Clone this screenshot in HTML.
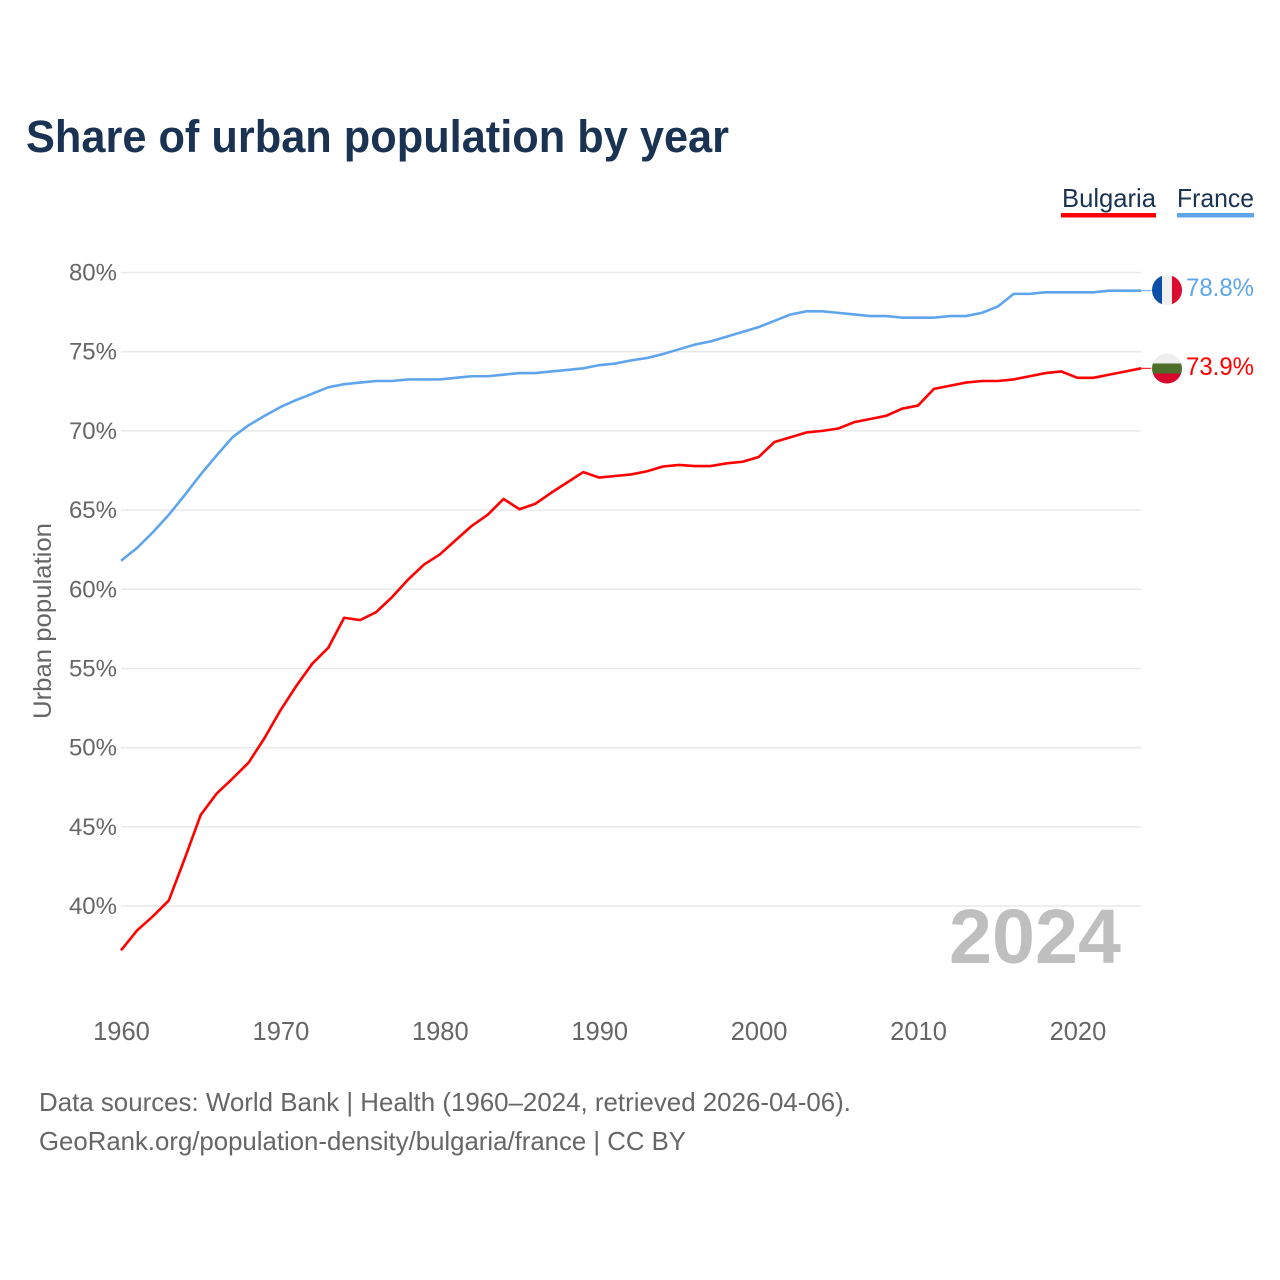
<!DOCTYPE html>
<html lang="en">
<head>
<meta charset="utf-8">
<title>Share of urban population by year</title>
<style>
  html, body { margin: 0; padding: 0; background: #ffffff; }
  svg { display: block; font-family: "Liberation Sans", sans-serif; }
</style>
</head>
<body>
<svg id="chart" xmlns="http://www.w3.org/2000/svg" width="1280" height="1280" viewBox="0 0 1280 1280">
  <rect x="0" y="0" width="1280" height="1280" fill="#ffffff"/>
  <text x="26" y="152" font-size="45" font-weight="700" fill="#1a3352" textLength="703" lengthAdjust="spacingAndGlyphs">Share of urban population by year</text>

  <g>
    <text x="1062" y="207" font-size="26" fill="#1a3352" textLength="94" lengthAdjust="spacingAndGlyphs">Bulgaria</text>
    <rect x="1061" y="213" width="95" height="4.5" fill="#ff0000"/>
  </g>
  <g>
    <text x="1177" y="207" font-size="26" fill="#1a3352" textLength="77" lengthAdjust="spacingAndGlyphs">France</text>
    <rect x="1177" y="213" width="77" height="4.5" fill="#5fa5ee"/>
  </g>

  <text transform="translate(51,719) rotate(-90)" x="0" y="0" font-size="25" fill="#666666" textLength="196" lengthAdjust="spacingAndGlyphs">Urban population</text>

  <g id="grid"></g>
  <g id="y-ticks"></g>
  <g id="x-ticks"></g>

  <text x="949" y="963" font-size="77" font-weight="700" fill="#bfbfbf" textLength="172" lengthAdjust="spacingAndGlyphs">2024</text>

  <g id="series"></g>

  <defs>
    <clipPath id="flag-clip-fr"><circle cx="1167" cy="290" r="15"/></clipPath>
    <clipPath id="flag-clip-bg"><circle cx="1167" cy="368.5" r="15"/></clipPath>
  </defs>

  <g clip-path="url(#flag-clip-fr)">
    <rect x="1152" y="275" width="10" height="30" fill="#0a4fa8"/>
    <rect x="1162" y="275" width="10" height="30" fill="#f0f0f0"/>
    <rect x="1172" y="275" width="10" height="30" fill="#dc0a2e"/>
  </g>
  <g clip-path="url(#flag-clip-bg)">
    <rect x="1152" y="353.5" width="30" height="10" fill="#eeeeee"/>
    <rect x="1152" y="363.5" width="30" height="10" fill="#4d6e2b"/>
    <rect x="1152" y="373.5" width="30" height="10" fill="#d6082e"/>
  </g>

  <text x="1186" y="296" font-size="25" fill="#5fa5ee" textLength="68" lengthAdjust="spacingAndGlyphs">78.8%</text>
  <text x="1186" y="375" font-size="25" fill="#ff0000" textLength="68" lengthAdjust="spacingAndGlyphs">73.9%</text>

  <text x="39" y="1111" font-size="26" fill="#666666" textLength="812" lengthAdjust="spacingAndGlyphs">Data sources: World Bank | Health (1960–2024, retrieved 2026-04-06).</text>
  <text x="39" y="1150" font-size="26" fill="#666666" textLength="647" lengthAdjust="spacingAndGlyphs">GeoRank.org/population-density/bulgaria/france | CC BY</text>
</svg>

<script>
const years = [1960,1961,1962,1963,1964,1965,1966,1967,1968,1969,
  1970,1971,1972,1973,1974,1975,1976,1977,1978,1979,
  1980,1981,1982,1983,1984,1985,1986,1987,1988,1989,
  1990,1991,1992,1993,1994,1995,1996,1997,1998,1999,
  2000,2001,2002,2003,2004,2005,2006,2007,2008,2009,
  2010,2011,2012,2013,2014,2015,2016,2017,2018,2019,
  2020,2021,2022,2023,2024];

const bulgaria = [37.2,38.45,39.35,40.35,43.0,45.75,47.1,48.05,49.05,50.6,
  52.35,53.9,55.3,56.3,58.2,58.05,58.55,59.5,60.6,61.55,
  62.2,63.1,64.0,64.7,65.7,65.05,65.4,66.1,66.75,67.4,
  67.05,67.15,67.25,67.45,67.75,67.85,67.78,67.78,67.95,68.05,
  68.35,69.3,69.6,69.9,70.0,70.15,70.55,70.75,70.95,71.4,
  71.6,72.65,72.85,73.05,73.15,73.15,73.25,73.45,73.65,73.75,
  73.35,73.35,73.55,73.75,73.95];

const france = [61.8,62.6,63.6,64.7,65.95,67.25,68.45,69.6,70.35,70.95,
  71.5,71.95,72.35,72.75,72.95,73.05,73.15,73.15,73.25,73.25,
  73.25,73.35,73.45,73.45,73.55,73.65,73.65,73.75,73.85,73.95,
  74.15,74.25,74.45,74.6,74.85,75.15,75.45,75.65,75.95,76.25,
  76.55,76.95,77.35,77.55,77.55,77.45,77.35,77.25,77.25,77.15,
  77.15,77.15,77.25,77.25,77.45,77.85,78.65,78.65,78.75,78.75,
  78.75,78.75,78.85,78.85,78.85];

const yTickValues = [40,45,50,55,60,65,70,75,80];
const yTickLabels = ["40%","45%","50%","55%","60%","65%","70%","75%","80%"];
const xTickValues = [1960,1970,1980,1990,2000,2010,2020];
const xTickLabels = ["1960","1970","1980","1990","2000","2010","2020"];

const SVG_NS = "http://www.w3.org/2000/svg";

function xScale(year) {
  return 121 + (year - 1960) * (1141.2 - 121) / 64;
}
function yScale(value) {
  return 906 - (value - 40) * (906 - 272.5) / 40;
}

const gridLayer = document.getElementById("grid");
const yTickLayer = document.getElementById("y-ticks");
const xTickLayer = document.getElementById("x-ticks");
const seriesLayer = document.getElementById("series");

yTickValues.forEach(function (value, i) {
  const line = document.createElementNS(SVG_NS, "line");
  
  
  line.setAttribute("x1", xScale(1960));
  line.setAttribute("x2", xScale(2024));
  line.setAttribute("y1", yScale(value));
  line.setAttribute("y2", yScale(value));
  line.setAttribute("stroke", "#e9e9e9");
  line.setAttribute("stroke-width", "1.5");
  gridLayer.appendChild(line);

  const label = document.createElementNS(SVG_NS, "text");
  
  
  label.setAttribute("x", 117);
  label.setAttribute("y", yScale(value) + 8);
  label.setAttribute("text-anchor", "end");
  label.setAttribute("font-size", "24");
  label.setAttribute("fill", "#666666");
  label.textContent = yTickLabels[i];
  yTickLayer.appendChild(label);
});

xTickValues.forEach(function (year, i) {
  const label = document.createElementNS(SVG_NS, "text");
  
  
  label.setAttribute("x", xScale(year) + 0.5);
  label.setAttribute("y", 1040);
  label.setAttribute("text-anchor", "middle");
  label.setAttribute("font-size", "25.5");
  label.setAttribute("fill", "#666666");
  label.textContent = xTickLabels[i];
  xTickLayer.appendChild(label);
});

function linePath(values) {
  return values.map(function (value, i) {
    return (i === 0 ? "M" : "L") + xScale(years[i]).toFixed(2) + "," + yScale(value).toFixed(2);
  }).join(" ");
}

function drawConnector(values, color, name) {
  const last = values[values.length - 1];
  const connector = document.createElementNS(SVG_NS, "line");
  
  
  connector.setAttribute("x1", xScale(years[years.length - 1]));
  connector.setAttribute("x2", xScale(years[years.length - 1]) + 10);
  connector.setAttribute("y1", yScale(last));
  connector.setAttribute("y2", yScale(last));
  connector.setAttribute("stroke", color);
  connector.setAttribute("stroke-width", "1");
  seriesLayer.appendChild(connector);
}

const francePath = document.createElementNS(SVG_NS, "path");


francePath.setAttribute("d", linePath(france));
francePath.setAttribute("fill", "none");
francePath.setAttribute("stroke", "#5fa5ee");
francePath.setAttribute("stroke-width", "2.6");
francePath.setAttribute("stroke-linejoin", "round");
seriesLayer.appendChild(francePath);

const bulgariaPath = document.createElementNS(SVG_NS, "path");


bulgariaPath.setAttribute("d", linePath(bulgaria));
bulgariaPath.setAttribute("fill", "none");
bulgariaPath.setAttribute("stroke", "#ff0000");
bulgariaPath.setAttribute("stroke-width", "2.6");
bulgariaPath.setAttribute("stroke-linejoin", "round");
seriesLayer.appendChild(bulgariaPath);

drawConnector(france, "#5fa5ee", "france-connector");
drawConnector(bulgaria, "#ff0000", "bulgaria-connector");
</script>
</body>
</html>
